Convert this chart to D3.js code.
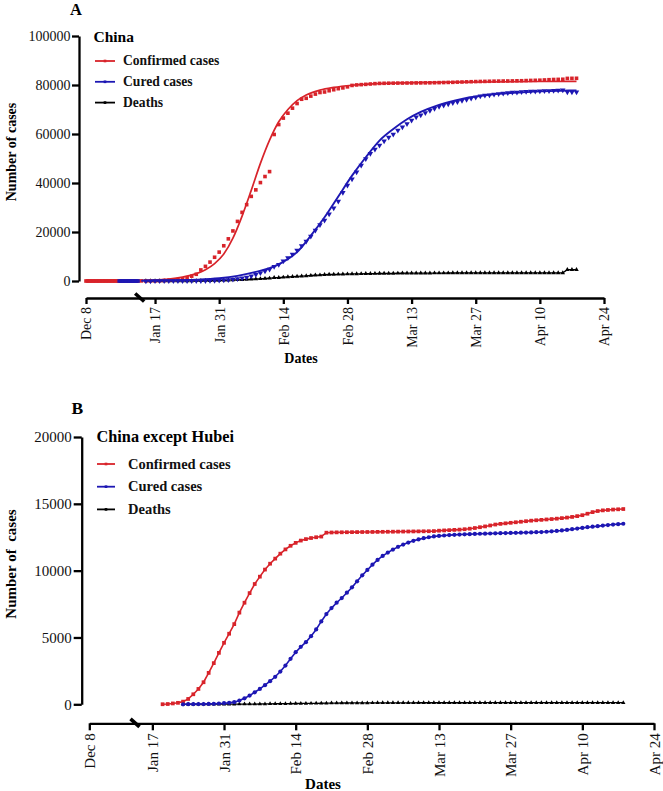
<!DOCTYPE html>
<html><head><meta charset="utf-8">
<script src="https://cdn.jsdelivr.net/npm/d3@7"></script>
<style>
body{margin:0;background:#fff;}
svg{display:block;}
svg text{font-family:"Liberation Serif","Times New Roman","DejaVu Serif",serif !important;}
</style></head><body>
<svg id="chart" width="663" height="791"></svg>
<script>
// ---------------- DATA ----------------
const seriesNames = ["Confirmed cases", "Cured cases", "Deaths"];
const tickDates = ["2019-12-08","2020-01-17","2020-01-31","2020-02-14","2020-02-28","2020-03-13","2020-03-27","2020-04-10","2020-04-24"];
// broken time axis: first segment ends, second segment starts
const axisSegments = ["2019-12-08","2020-01-13","2020-01-14","2020-04-24"];
const yTicksA = [0, 20000, 40000, 60000, 80000, 100000];
const yTicksB = [0, 5000, 10000, 15000, 20000];

// Panel A: China (daily values)
const chinaConfirmedEarlyStart = "2019-12-08";
const chinaConfirmedEarly = [1,1,1,2,2,3,4,5,6,7,8,9,10,11,12,13,14,15,16,18,20,22,25,
  27,27,27,27,27,27,27,27,27, 41,41,41,41,41];
const chinaCuredEarlyStart = "2019-12-31";
const chinaCuredEarly = [0,0,0,0,0,0,0,0,0,0,0,0,0,0];

const chinaConfirmedStart = "2020-01-14";
const chinaConfirmed = [41,41,45,62,121,198,291,440,571,830,1287,1975,2744,4515,5974,7711,9692,11791,
  14380,17205,20438,24324,28018,31161,34546,37198,40171,42638,44653,59804,63851,66492,68500,70548,72436,74185,74576,75465,76288,76936,77150,77658,78064,78497,78824,79251,79824,
  80026,80151,80270,80409,80552,80651,80695,80735,80754,80778,80793,80813,80824,80844,80860,80881,80894,80928,80967,81008,81054,81093,81171,81218,81285,81340,81394,81439,81470,81518,81554,
  81589,81620,81639,81669,81708,81740,81802,81865,81907,81953,82052,82160,82249,82295,82341,82692,82719,82735];
const chinaCuredStart = "2020-01-15";
const chinaCured = [12,15,19,24,25,25,28,28,34,38,49,51,60,103,124,171,243,
  328,475,632,892,1153,1540,2050,2649,3281,3996,4740,5911,6723,8096,9419,10844,12552,14376,16155,18264,20659,22888,24734,27323,29745,32495,36117,39002,41625,
  44462,47204,49856,52045,53726,55404,57065,58600,59897,61475,62793,64111,65541,66911,67749,68679,69601,70420,71150,71740,72244,72703,73159,73650,74051,74588,74971,75448,75790,75923,76238,
  76408,76571,76755,76964,77029,77167,77279,77370,77455,77525,77575,77663,77738,77816,77892,77100,77110,77120];
const chinaDeathsStart = "2020-01-15";
const chinaDeaths = [1,2,2,3,3,6,9,17,25,41,56,80,106,132,170,213,259,
  304,361,425,490,563,636,722,811,908,1016,1113,1367,1380,1523,1665,1770,1868,2004,2118,2236,2345,2442,2592,2663,2715,2744,2788,2835,2870,
  2912,2943,2981,3012,3042,3070,3097,3119,3136,3158,3169,3176,3189,3199,3213,3226,3237,3245,3248,3255,3261,3270,3277,3281,3287,3292,3295,3300,3304,3305,3312,
  3318,3322,3326,3329,3331,3333,3335,3335,3336,3339,3339,3341,3341,3342,3342,4632,4632,4632];

// Panel A fitted curves
const chinaConfirmedFitDates = ["2020-01-14","2020-01-17","2020-01-20","2020-01-23","2020-01-26","2020-01-28","2020-01-30","2020-02-01","2020-02-03","2020-02-05","2020-02-07","2020-02-09","2020-02-11","2020-02-13","2020-02-15","2020-02-17","2020-02-19","2020-02-22","2020-02-25","2020-02-29","2020-03-05","2020-03-12","2020-03-25","2020-04-18"];
const chinaConfirmedFit = [200,400,800,1600,3000,4600,7100,11000,17500,26500,37000,48000,57500,65000,70000,73600,75900,77900,79000,79900,80500,80900,81200,81500];
const chinaCuredFitDates = ["2020-01-14","2020-01-20","2020-01-26","2020-01-31","2020-02-04","2020-02-08","2020-02-11","2020-02-14","2020-02-17","2020-02-20","2020-02-23","2020-02-26","2020-02-29","2020-03-03","2020-03-06","2020-03-09","2020-03-12","2020-03-15","2020-03-19","2020-03-24","2020-03-30","2020-04-06","2020-04-12","2020-04-18"];
const chinaCuredFit = [100,200,500,1100,2100,3700,5200,7800,11800,18500,26000,34500,43000,50500,57300,62000,66000,69000,71900,74300,76000,77000,77500,77800];

// Panel B: China except Hubei (daily values)
const exHubeiConfirmedStart = "2020-01-19";
const exHubeiConfirmed = [5,21,65,110,200,400,750,1150,1650,2350,3080,3850,4600,
  5280,6000,6860,7600,8320,9000,9550,10080,10520,10900,11270,11590,11860,12080,12250,12360,12440,12500,12550,12840,12855,12865,12870,12875,12880,12885,12890,12893,12896,
  12900,12905,12910,12915,12920,12925,12930,12935,12940,12945,12950,12960,12990,13010,13030,13050,13070,13100,13140,13190,13250,13310,13380,13450,13500,13540,13580,13620,13660,13700,13740,
  13770,13800,13830,13860,13890,13930,13970,14020,14080,14150,14260,14380,14460,14510,14540,14570,14590,14610];
const exHubeiCuredStart = "2020-01-23";
const exHubeiCured = [0,5,10,15,20,30,40,60,80,
  110,160,280,450,650,900,1150,1430,1730,2060,2450,2900,3400,3900,4300,4650,5100,5600,6200,6750,7200,7600,7950,8350,8750,9200,9650,10050,10450,
  10800,11100,11350,11580,11780,11950,12100,12230,12340,12430,12500,12560,12600,12630,12660,12680,12700,12715,12730,12745,12760,12770,12780,12790,12800,12810,12820,12830,12840,12850,12860,
  12875,12890,12910,12940,12970,13010,13050,13100,13150,13200,13250,13290,13330,13370,13410,13450,13480,13510];
const exHubeiDeathsStart = "2020-01-23";
const exHubeiDeaths = [1,2,3,4,6,7,8,9,10,
  11,12,13,16,18,20,23,31,37,42,45,49,54,60,64,66,69,75,80,85,90,93,96,97,100,102,103,105,106,
  109,110,111,112,113,113,114,114,115,115,115,116,116,116,116,117,117,117,117,118,118,118,118,118,119,119,119,119,119,120,120,
  120,120,120,120,121,121,121,121,121,121,121,122,122,122,122,122,122,122];

// ---------------- DRAWING ----------------
const SERIF = "Liberation Serif";
const RED = "#d8232a", BLUE = "#1d17b3", BLACK = "#000";
const parse = d3.utcParse("%Y-%m-%d");
const fmt = d3.utcFormat("%b %-d");
function daily(start, values) { const s = parse(start); return values.map((v, i) => ({date: d3.utcDay.offset(s, i), value: v})); }
function pairs(dates, values) { return dates.map((d, i) => ({date: parse(d), value: values[i]})); }

const svg = d3.select("#chart").attr("font-family", SERIF);

function drawPanel(cfg) {
  const g = svg.append("g");
  const x = d3.scaleUtc().domain(axisSegments.map(parse)).range(cfg.xRange);
  const y = d3.scaleLinear().domain([0, cfg.yMax]).range(cfg.yRange);

  const ya = g.append("g").attr("transform", `translate(${cfg.yAxisX},0)`)
    .call(d3.axisLeft(y).tickValues(cfg.yTicks).tickFormat(d3.format("d")).tickSize(cfg.tickLen).tickSizeOuter(0).tickPadding(cfg.yPad));
  const xa = g.append("g").attr("transform", `translate(0,${cfg.xAxisY})`)
    .call(d3.axisBottom(x).tickValues(tickDates.map(parse)).tickFormat(fmt).tickSize(cfg.tickLen - 1).tickSizeOuter(0));
  [ya, xa].forEach(a => {
    a.attr("font-family", SERIF).attr("font-size", cfg.tickFont);
    a.select(".domain").attr("stroke", "#000").attr("stroke-width", 2.3);
    a.selectAll(".tick line").attr("stroke", "#000").attr("stroke-width", 2.3);
    a.selectAll(".tick text").attr("fill", "#111");
  });
  xa.selectAll(".tick text").attr("transform", "rotate(-90)").attr("y", 0).attr("x", -cfg.xLabOff)
    .attr("dy", "0.35em").style("text-anchor", "end");

  const bx = (x(parse(axisSegments[1])) + x(parse(axisSegments[2]))) / 2;
  g.append("line").attr("x1", bx - 4.5).attr("y1", cfg.xAxisY - 4.5).attr("x2", bx + 4.5).attr("y2", cfg.xAxisY + 3.5)
    .attr("stroke", "#000").attr("stroke-width", 3.6);

  g.append("text").attr("x", cfg.xTitle[0]).attr("y", cfg.xTitle[1]).attr("text-anchor", "middle")
    .attr("font-weight", "bold").attr("font-size", cfg.titleFont).text("Dates");
  g.append("text").attr("transform", `translate(${cfg.yTitle[0]},${cfg.yTitle[1]}) rotate(-90)`).attr("text-anchor", "middle")
    .attr("font-weight", "bold").attr("font-size", cfg.titleFont).style("white-space", "pre").text(cfg.yTitleText);
  g.append("text").attr("x", cfg.letter[0]).attr("y", cfg.letter[1]).attr("font-weight", "bold")
    .attr("font-size", cfg.letterFont).text(cfg.letterText);

  const line = d3.line().x(d => x(d.date)).y(d => y(d.value));
  const smooth = d3.line().x(d => x(d.date)).y(d => y(d.value)).curve(d3.curveMonotoneX);
  const plot = g.append("g");
  cfg.layers.forEach(L => {
    if (L.type === "line" || L.type === "fit") {
      plot.append("path").datum(L.data).attr("fill", "none").attr("stroke", L.color)
        .attr("stroke-width", L.width).attr("d", L.type === "fit" ? smooth(L.data) : line(L.data));
    } else {
      const sym = d3.symbol().type(L.symbol).size(L.size);
      plot.append("g").selectAll("path").data(L.data).join("path")
        .attr("transform", d => `translate(${x(d.date)},${y(d.value)})${L.rotate ? " rotate(180)" : ""}`)
        .attr("d", sym()).attr("fill", L.color);
    }
  });

  const lg = g.append("g");
  lg.append("text").attr("x", cfg.legend.titleX).attr("y", cfg.legend.titleY).attr("font-weight", "bold")
    .attr("font-size", cfg.legend.titleFont).text(cfg.legend.title);
  seriesNames.forEach((name, i) => {
    const yy = cfg.legend.y0 + i * cfg.legend.dy;
    const col = [RED, BLUE, BLACK][i];
    lg.append("line").attr("x1", cfg.legend.x0).attr("x2", cfg.legend.x1).attr("y1", yy).attr("y2", yy)
      .attr("stroke", col).attr("stroke-width", 1.8);
    lg.append("path").attr("transform", `translate(${(cfg.legend.x0 + cfg.legend.x1) / 2},${yy})`)
      .attr("d", d3.symbol().type(d3.symbolSquare).size(7)()).attr("fill", col);
    lg.append("text").attr("x", cfg.legend.textX).attr("y", yy).attr("dy", "0.33em").attr("font-weight", "bold")
      .attr("font-size", cfg.legend.font).attr("fill", "#111").text(name);
  });
}

// Panel A
const aConfE = daily(chinaConfirmedEarlyStart, chinaConfirmedEarly);
const aCureE = daily(chinaCuredEarlyStart, chinaCuredEarly);
const aConf = daily(chinaConfirmedStart, chinaConfirmed);
const aCure = daily(chinaCuredStart, chinaCured);
const aDeath = daily(chinaDeathsStart, chinaDeaths);
drawPanel({
  xRange: [86, 138, 141.3, 604], yRange: [281, 36], yMax: 100000, yTicks: yTicksA,
  yAxisX: 79, xAxisY: 298, tickLen: 7, yPad: 1.5, tickFont: 14, xLabOff: 9,
  titleFont: 14, xTitle: [301, 363], yTitle: [16, 152], yTitleText: "Number of cases",
  letter: [70, 14.5], letterFont: 16.5, letterText: "A",
  legend: {title: "China", titleX: 93.5, titleY: 42, titleFont: 15.5, x0: 95, x1: 115, textX: 123, y0: 61, dy: 20.8, font: 13.6},
  layers: [
    {type: "line", data: aDeath, color: BLACK, width: 1.3},
    {type: "pts", data: aDeath, color: BLACK, symbol: d3.symbolTriangle, size: 9},
    {type: "pts", data: aConfE, color: RED, symbol: d3.symbolSquare, size: 13},
    {type: "pts", data: aConf, color: RED, symbol: d3.symbolSquare, size: 13},
    {type: "fit", data: pairs(chinaConfirmedFitDates, chinaConfirmedFit), color: RED, width: 1.7},
    {type: "pts", data: aCureE, color: BLUE, symbol: d3.symbolSquare, size: 13},
    {type: "pts", data: aCure, color: BLUE, symbol: d3.symbolTriangle, size: 13, rotate: true},
    {type: "fit", data: pairs(chinaCuredFitDates, chinaCuredFit), color: BLUE, width: 1.9}
  ]
});

// Panel B
const bConf = daily(exHubeiConfirmedStart, exHubeiConfirmed);
const bCure = daily(exHubeiCuredStart, exHubeiCured);
const bDeath = daily(exHubeiDeathsStart, exHubeiDeaths);
drawPanel({
  xRange: [89.3, 133, 137, 654], yRange: [704.3, 437], yMax: 20000, yTicks: yTicksB,
  yAxisX: 81.7, xAxisY: 723.3, tickLen: 8, yPad: 2, tickFont: 15, xLabOff: 10,
  titleFont: 15, xTitle: [323, 789], yTitle: [16, 564], yTitleText: "Number of  cases",
  letter: [71.5, 413.5], letterFont: 17.5, letterText: "B",
  legend: {title: "China except Hubei", titleX: 96.5, titleY: 442, titleFont: 16.3, x0: 97, x1: 115, textX: 128, y0: 464, dy: 22.7, font: 14.5},
  layers: [
    {type: "line", data: bDeath, color: BLACK, width: 1.3},
    {type: "pts", data: bDeath, color: BLACK, symbol: d3.symbolTriangle, size: 8},
    {type: "line", data: bConf, color: RED, width: 1.6},
    {type: "pts", data: bConf, color: RED, symbol: d3.symbolSquare, size: 14},
    {type: "line", data: bCure, color: BLUE, width: 1.6},
    {type: "pts", data: bCure, color: BLUE, symbol: d3.symbolCircle, size: 14}
  ]
});
</script>
</body></html>
